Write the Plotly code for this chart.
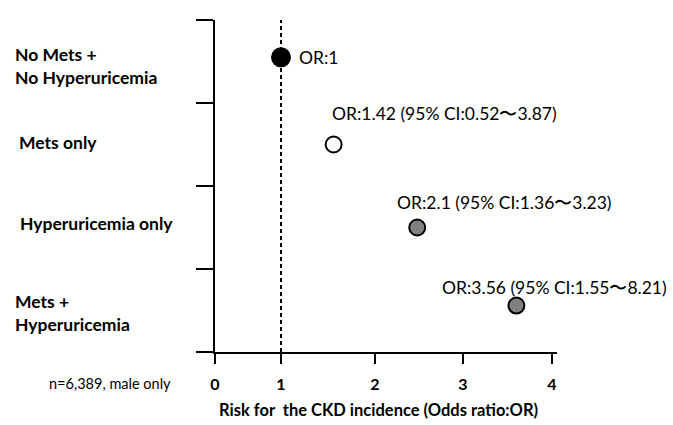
import numpy as np
import plotly.graph_objects as go

# ---- data ----
categories = ["No Mets +<br>No Hyperuricemia", "Mets only", "Hyperuricemia only", "Mets +<br>Hyperuricemia"]
or_plotted = [1.0, 1.56, 2.48, 3.6]          # marker positions as drawn
or_labels = ["OR:1",
             "OR:1.42 (95% CI:0.52〜3.87)",
             "OR:2.1 (95% CI:1.36〜3.23)",
             "OR:3.56 (95% CI:1.55〜8.21)"]
x_tick_values = [0, 1, 2, 3, 4]
x_tick_labels = ["0", "1", "2", "3", "4"]
reference_or = 1

# ---- layout constants (hand-drawn axis: ticks unevenly spaced) ----
W, H = 673, 425
L, R, T, B = 215, 557, 20, 352
tick_px = [215, 281, 375, 463, 552]
FONT = "Lato, Open Sans, sans-serif"


def xpos(v):
    return float(np.interp(v, x_tick_values, tick_px))


n = len(categories)
ycent = [n - i - 0.5 for i in range(n)]
marker_y = [ycent[0] + 0.05, ycent[1], ycent[2], ycent[3] + 0.06]
fills = ["black", "white", "#808080", "#808080"]
msizes = [18, 16, 16, 16]
label_shift = [(16, 0, "left"), (-4, 31, "left"), (-22, 25, "left"), (-76, 18, "left")]

fig = go.Figure()
fig.add_trace(go.Scatter(
    x=[xpos(v) for v in or_plotted], y=marker_y, mode="markers",
    marker=dict(size=msizes, color=fills, opacity=1, line=dict(color="black", width=2)),
    showlegend=False, hoverinfo="skip"))

# reference dashed line at OR = 1
fig.add_shape(type="line", x0=xpos(reference_or), x1=xpos(reference_or), y0=0, y1=n,
              line=dict(color="black", width=2, dash="4px,3px"), layer="below")

font_reg = dict(family=FONT, size=17.5, color="black")
for i, (lab, v) in enumerate(zip(or_labels, or_plotted)):
    dx, dy, anc = label_shift[i]
    fig.add_annotation(x=xpos(v), y=marker_y[i], text=lab, showarrow=False,
                       xanchor=anc, yanchor="middle", xshift=dx, yshift=dy, font=font_reg)

cat_y = [ycent[0] - 0.05, ycent[1] + 0.02, ycent[2] + 0.05, ycent[3] - 0.03]
cat_x = [13, 17, 18, 13]
for i, c in enumerate(categories):
    fig.add_annotation(x=(cat_x[i] - L) / (R - L), xref="paper", y=cat_y[i], yref="y",
                       text="<b>" + c + "</b>", showarrow=False, xanchor="left",
                       align="left", yanchor="middle",
                       font=dict(family=FONT, size=17.5, color="black"))

fig.add_annotation(x=(47 - L) / (R - L), xref="paper", y=-(383 - B) / (B - T),
                   yref="paper", text="n=6,389, male only", showarrow=False,
                   xanchor="left", yanchor="middle", font=dict(family=FONT, size=14.5, color="black"))
fig.add_annotation(x=(217 - L) / (R - L), xref="paper", y=-(410 - B) / (B - T), yref="paper",
                   text="<b>Risk for  the CKD incidence (Odds ratio:OR)</b>", showarrow=False,
                   xanchor="left", yanchor="middle",
                   font=dict(family=FONT, size=16.5, color="black"))

fig.update_xaxes(range=[L, R], showgrid=False, zeroline=False, showline=True,
                 linecolor="black", linewidth=2, ticks="outside", ticklen=10,
                 tickwidth=2, tickcolor="black",
                 tickvals=[xpos(v) for v in x_tick_values], ticktext=["<b>%s</b>" % t for t in x_tick_labels],
                 tickfont=dict(family=FONT, size=16, color="black"),
                 ticklabelstandoff=7)
fig.update_yaxes(range=[0, n], showgrid=False, zeroline=False, showline=True,
                 linecolor="black", linewidth=2, ticks="outside", ticklen=17,
                 tickwidth=2, tickcolor="black", tickvals=list(range(n + 1)),
                 showticklabels=False)
fig.update_layout(width=W, height=H, margin=dict(l=L, r=W - R, t=T, b=H - B),
                  plot_bgcolor="white", paper_bgcolor="white")
fig.write_html("out.html", config={"displayModeBar": False, "staticPlot": True},
               post_script="document.body.style.margin='0';")
